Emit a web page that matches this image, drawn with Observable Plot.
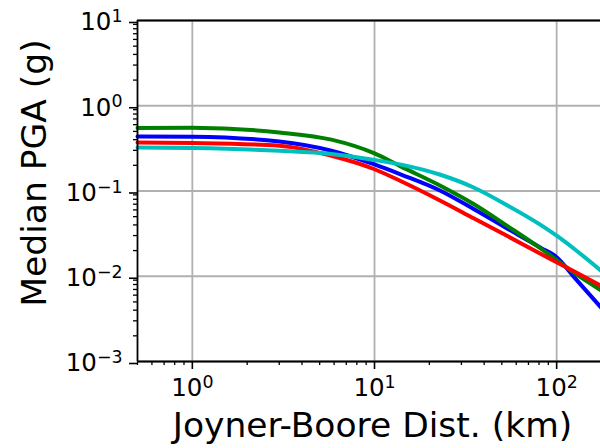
<!DOCTYPE html>
<html><head><meta charset="utf-8">
<script src="https://cdn.jsdelivr.net/npm/d3@7"></script>
<script src="https://cdn.jsdelivr.net/npm/@observablehq/plot@0.6"></script>
<style>
html,body{margin:0;padding:0;overflow:hidden;background:#fff;width:600px;height:448px}
#chart svg{display:block;max-width:none !important;height:448px !important}
</style>
</head><body><div id="chart"></div>
<script>
// Joyner-Boore distance (km)
const distances = [0.5, 1, 3, 5.8, 10, 14, 23, 35, 54, 82, 100, 125, 175];
// Median PGA (g) per model (by line colour)
const blueValues  = [0.437, 0.433, 0.381, 0.297, 0.205, 0.156, 0.1008, 0.0615, 0.0359, 0.0215, 0.01667, 0.00971, 0.00432];
const greenValues = [0.548, 0.552, 0.486, 0.400, 0.276, 0.193, 0.1153, 0.0704, 0.0385, 0.0211, 0.0155, 0.01096, 0.00684];
const redValues   = [0.371, 0.365, 0.340, 0.259, 0.180, 0.130, 0.0769, 0.0479, 0.0294, 0.01828, 0.01462, 0.01135, 0.00776];
const cyanValues  = [0.324, 0.319, 0.297, 0.272, 0.231, 0.204, 0.155, 0.110, 0.0673, 0.0398, 0.0299, 0.0209, 0.01164];

const seriesNames  = ["blue", "green", "red", "cyan"];
const seriesColors = ["#0000ff", "#008000", "#ff0000", "#00bfbf"];
const seriesValues = [blueValues, greenValues, redValues, cyanValues];

const xMajorTicks = [1, 10, 100];
const xTickLabels = ["10⁰", "10¹", "10²"];
const yMajorTicks = [1e-3, 1e-2, 1e-1, 1, 10];
const yTickLabels = ["10⁻³", "10⁻²", "10⁻¹", "10⁰", "10¹"];
const minorMultipliers = [2, 3, 4, 5, 6, 7, 8, 9];
const xDecades = [0.1, 1, 10, 100];
const yDecades = [1e-3, 1e-2, 1e-1, 1];
const xDomain = [0.5, 200];
const yDomain = [1e-3, 10];

const xMinor = xDecades.flatMap(d => minorMultipliers.map(m => d * m)).filter(v => v >= xDomain[0] && v <= 190);
const yMinor = yDecades.flatMap(d => minorMultipliers.map(m => d * m));

const tableFor = i => distances.map((x, j) => ({x, y: seriesValues[i][j]}));

const font = "DejaVu Sans";
const marks = [
  Plot.gridX(xMajorTicks, {stroke: "#b0b0b0", strokeOpacity: 1, strokeWidth: 1.8}),
  Plot.gridY(yMajorTicks, {stroke: "#b0b0b0", strokeOpacity: 1, strokeWidth: 1.8}),
  ...seriesNames.map((name, i) => Plot.line(tableFor(i), {x: "x", y: "y", stroke: seriesColors[i], strokeWidth: 4, curve: "monotone-x"})),
  Plot.axisX(xMajorTicks, {tickSize: 8, tickPadding: 9, strokeWidth: 1.6, fontSize: 24.5,
    tickFormat: d => xTickLabels[xMajorTicks.indexOf(d)], label: null}),
  Plot.axisX(xMinor, {tickSize: 4, strokeWidth: 1.3, tickFormat: () => "", label: null}),
  Plot.axisY(yMajorTicks, {tickSize: 8, tickPadding: 7, strokeWidth: 1.6, fontSize: 24.5, dy: 2,
    tickFormat: d => yTickLabels[yMajorTicks.indexOf(d)], label: null}),
  Plot.axisY(yMinor, {tickSize: 4, strokeWidth: 1.3, tickFormat: () => "", label: null}),
  Plot.ruleX([xDomain[0]], {stroke: "#000", strokeWidth: 1.8}),
  Plot.ruleY([yDomain[0], yDomain[1]], {stroke: "#000", strokeWidth: 1.8}),
  Plot.text(["Joyner-Boore Dist. (km)"], {frameAnchor: "bottom", textAnchor: "middle", lineAnchor: "middle",
    dx: -2, dy: 64, fontSize: 34.5, fill: "#000"}),
  Plot.text(["Median PGA (g)"], {frameAnchor: "left", textAnchor: "middle", lineAnchor: "middle",
    dx: -103, dy: -18, rotate: -90, fontSize: 34.5, fill: "#000"})
];

const chart = Plot.plot({
  width: 611,
  height: 448,
  marginLeft: 137,
  marginRight: 0,
  marginTop: 20,
  marginBottom: 87,
  style: {fontFamily: font, background: "#fff", color: "#000", overflow: "hidden"},
  x: {type: "log", domain: xDomain},
  y: {type: "log", domain: yDomain},
  marks
});

// Render the exponent of each tick label as a true superscript (like mathtext)
const supMap = {"⁰": "0", "¹": "1", "²": "2", "³": "3", "⁻": "−"};
chart.querySelectorAll("text").forEach(t => {
  if (t.children.length) return;
  const s = t.textContent;
  const chars = [...s];
  const exp = chars.filter(c => supMap[c]).map(c => supMap[c]).join("");
  if (!exp) return;
  const base = chars.filter(c => !supMap[c]).join("");
  t.textContent = "";
  t.append(document.createTextNode(base));
  const ts = document.createElementNS("http://www.w3.org/2000/svg", "tspan");
  ts.setAttribute("dy", "-0.48em");
  ts.setAttribute("font-size", "0.71em");
  ts.textContent = exp;
  t.append(ts);
});

document.getElementById("chart").appendChild(chart);
</script>
</body></html>
